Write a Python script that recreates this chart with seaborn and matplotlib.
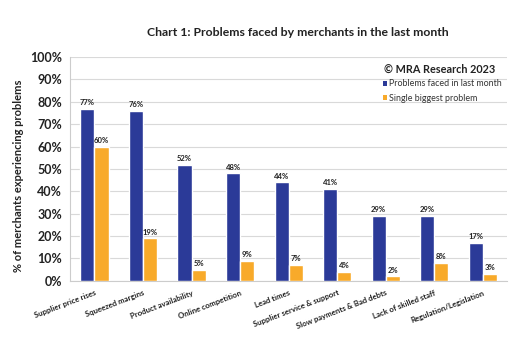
import matplotlib
matplotlib.use("Agg")
import matplotlib.pyplot as plt
import matplotlib.transforms as mtransforms
import seaborn as sns
import pandas as pd
from matplotlib.patches import Patch

categories = ["Supplier price rises", "Squeezed margins", "Product availability",
              "Online competition", "Lead times", "Supplier service & support",
              "Slow payments & Bad debts", "Lack of skilled staff", "Regulation/Legislation"]
faced_last_month = [77, 76, 52, 48, 44, 41, 29, 29, 17]
single_biggest = [60, 19, 5, 9, 7, 4, 2, 8, 3]
series_names = ["Problems faced in last month", "Single biggest problem"]
y_ticks = [0, 10, 20, 30, 40, 50, 60, 70, 80, 90, 100]

df = pd.DataFrame({
    "category": categories * 2,
    "value": faced_last_month + single_biggest,
    "series": [series_names[0]] * len(categories) + [series_names[1]] * len(categories),
})

sns.set_theme(style="white")
plt.rcParams["font.family"] = ["Lato", "DejaVu Sans"]

colors = ["#2B3A98", "#F8AA2A"]
fig = plt.figure(figsize=(5.2, 3.4), dpi=100)
ax = fig.add_axes([0.135, 0.174, 0.84, 0.658])

sns.barplot(data=df, x="category", y="value", hue="series", palette=colors,
            width=0.58, gap=0, ax=ax, legend=False, saturation=1, zorder=3)

for cont in ax.containers:
    ax.bar_label(cont, labels=[f"{int(round(v))}%" for v in cont.datavalues],
                 padding=2, fontsize=5.5, fontweight="bold", color="#222222")

ax.set_ylim(0, 100)
ax.set_yticks(y_ticks)
ax.set_yticklabels([f"{t}%" for t in y_ticks], fontsize=9, fontweight="bold", color="#222222")
ax.yaxis.grid(True, color="#d9d9d9", linewidth=0.8, zorder=0)
ax.set_axisbelow(True)
ax.set_xlim(-0.5, len(categories) - 0.5)
ax.set_xticks(range(len(categories)))
ax.set_xticklabels(categories, rotation=21, ha="right", rotation_mode="anchor",
                   fontsize=5.6, fontweight="bold", color="#222222")
offset = mtransforms.ScaledTranslation(6 / 100, 0, fig.dpi_scale_trans)
for lab in ax.get_xticklabels():
    lab.set_transform(lab.get_transform() + offset)
ax.tick_params(axis="x", length=0, pad=6)
ax.tick_params(axis="y", length=0, pad=6)
ax.set_xlabel("")
ax.set_ylabel("% of merchants experiencing problems", fontsize=8, fontweight="bold",
              color="#222222")
ax.yaxis.set_label_coords(-0.105, 0.47)
for s in ["top", "right"]:
    ax.spines[s].set_visible(False)
for s in ["left", "bottom"]:
    ax.spines[s].set_color("#cccccc")
    ax.spines[s].set_linewidth(0.8)

fig.text(0.572, 0.905, "Chart 1: Problems faced by merchants in the last month",
         ha="center", va="center", fontsize=8.8, fontweight="bold", color="#222222")
ax.text(0.972, 0.945, "© MRA Research 2023", transform=ax.transAxes, ha="right", va="center",
        fontsize=7.8, fontweight="bold", color="#222222")
handles = [Patch(facecolor=c, edgecolor="none") for c in colors]
leg = ax.legend(handles, series_names, loc="upper left", bbox_to_anchor=(0.715, 0.9),
                frameon=False, fontsize=6.4, handlelength=0.45, handleheight=0.45,
                handletextpad=0.3, labelspacing=0.6, borderaxespad=0, borderpad=0)
for t in leg.get_texts():
    t.set_color("#333333")

fig.savefig("out.png", dpi=100)
